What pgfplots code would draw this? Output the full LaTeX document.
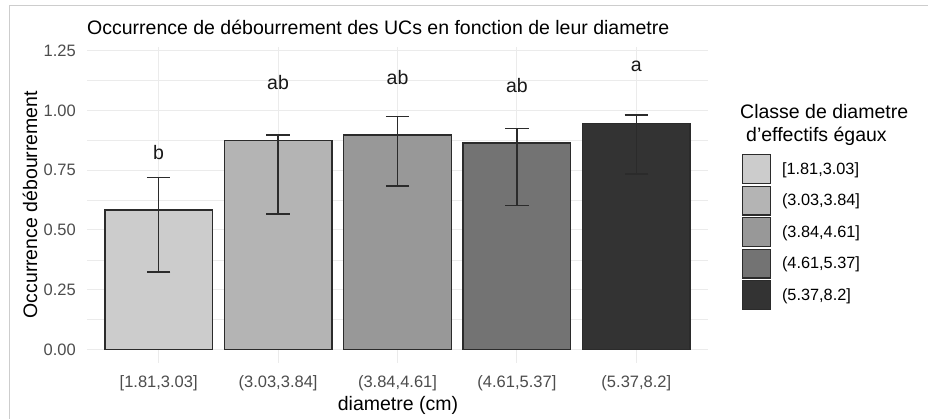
\documentclass[border=0pt]{standalone}
\usepackage{fontspec}
\setmainfont{Liberation Sans}
\usepackage{pgfplots}
\pgfplotsset{compat=1.18}
\definecolor{c1}{HTML}{CCCCCC}
\definecolor{c2}{HTML}{B4B4B4}
\definecolor{c3}{HTML}{989898}
\definecolor{c4}{HTML}{737373}
\definecolor{c5}{HTML}{333333}
\definecolor{edge}{HTML}{2B2B2B}
\definecolor{tickgrey}{HTML}{4D4D4D}
\definecolor{gridmaj}{HTML}{EBEBEB}
\definecolor{framegrey}{HTML}{CDCDCD}
\pgfplotsset{
  mybar/.style={ybar, bar width=0.9, bar shift=0pt, fill=#1, draw=edge, line width=1.4pt,
    legend image code/.code={\draw[fill=#1, draw=edge, line width=1.4pt] (0pt,-14.3pt) rectangle (27.6pt,14.3pt);},
    error bars/.cd, y dir=both, y explicit,
    error bar style={line width=1.5pt, draw=edge},
    error mark options={rotate=90, line width=1.5pt, edge, mark size=11.7pt}},
}
\begin{document}
\begin{tikzpicture}[x=1pt,y=1pt]
\useasboundingbox (0,0) rectangle (928,419);
\fill[white] (0,0) rectangle (928,419);
\draw[framegrey, line width=1pt] (9.5,0) -- (9.5,413) -- (928,413);
\begin{axis}[
  at={(87pt,56.3pt)}, anchor=south west,
  scale only axis, width=621pt, height=316pt,
  xmin=-0.6, xmax=4.6, ymin=-0.055, ymax=1.266,
  axis line style={draw=none},
  major tick length=0pt, minor tick length=0pt,
  xtick={0,1,2,3,4},
  xticklabels={{[1.81,3.03]},{(3.03,3.84]},{(3.84,4.61]},{(4.61,5.37]},{(5.37,8.2]}},
  ytick={0,0.25,0.5,0.75,1,1.25},
  minor ytick={0.125,0.375,0.625,0.875,1.125},
  xmajorgrids, ymajorgrids, yminorgrids,
  major grid style={gridmaj, line width=1pt},
  minor grid style={gridmaj, line width=0.6pt},
  every error bar/.append style={line width=1.5pt, draw=edge},
  /pgf/number format/assume math mode=true,
  tick label style={font=\fontsize{16.5}{19}\selectfont, text=tickgrey},
  yticklabel style={/pgf/number format/fixed, /pgf/number format/fixed zerofill, /pgf/number format/precision=2, anchor=east, inner sep=0pt, xshift=-11pt},
  xticklabel style={anchor=base, inner sep=0pt, yshift=-25pt},
  xlabel={diametre (cm)},
  xlabel style={at={(axis description cs:0.5008,-0.1497)}, anchor=base, inner sep=0pt, font=\fontsize{19.5}{22}\selectfont},
  ylabel={Occurrence débourrement},
  ylabel style={at={(axis description cs:-0.0918,0.5)}, anchor=center, font=\fontsize{19.5}{22}\selectfont},
  legend style={at={(axis description cs:1.0548,0.6604)}, anchor=north west, draw=none, fill=none,
    inner sep=0pt, outer sep=0pt, row sep=1.5pt, column sep=11pt,
    font=\fontsize{16.3}{19}\selectfont, nodes={inner sep=0pt, anchor=west}},
  legend cell align=left,
]
\addplot[mybar=c1] coordinates {(0,0.584) += (0,0.136) -= (0,0.260)};
\addlegendentry{[1.81,3.03]}
\addplot[mybar=c2] coordinates {(1,0.875) += (0,0.022) -= (0,0.308)};
\addlegendentry{(3.03,3.84]}
\addplot[mybar=c3] coordinates {(2,0.897) += (0,0.077) -= (0,0.214)};
\addlegendentry{(3.84,4.61]}
\addplot[mybar=c4] coordinates {(3,0.863) += (0,0.060) -= (0,0.261)};
\addlegendentry{(4.61,5.37]}
\addplot[mybar=c5] coordinates {(4,0.945) += (0,0.036) -= (0,0.211)};
\addlegendentry{(5.37,8.2]}
\addplot[forget plot, draw=none, mark=none, nodes near coords, point meta=explicit symbolic,
  nodes near coords style={anchor=base, inner sep=0pt, font=\fontsize{19.5}{22}\selectfont, text=black!90}]
  table[meta=lab] {
x y lab
0 0.793 b
1 1.086 ab
2 1.110 ab
3 1.074 ab
4 1.162 a
};
\end{axis}
\node[anchor=base west, inner sep=0pt, font=\fontsize{19.5}{22}\selectfont] at (87,384) {Occurrence de débourrement des UCs en fonction de leur diametre};
\node[anchor=base west, inner sep=0pt, font=\fontsize{19.5}{22}\selectfont] at (740,300) {Classe de diametre};
\node[anchor=base west, inner sep=0pt, font=\fontsize{19.5}{22}\selectfont] at (746,277.3) {d'effectifs égaux};
\end{tikzpicture}
\end{document}
